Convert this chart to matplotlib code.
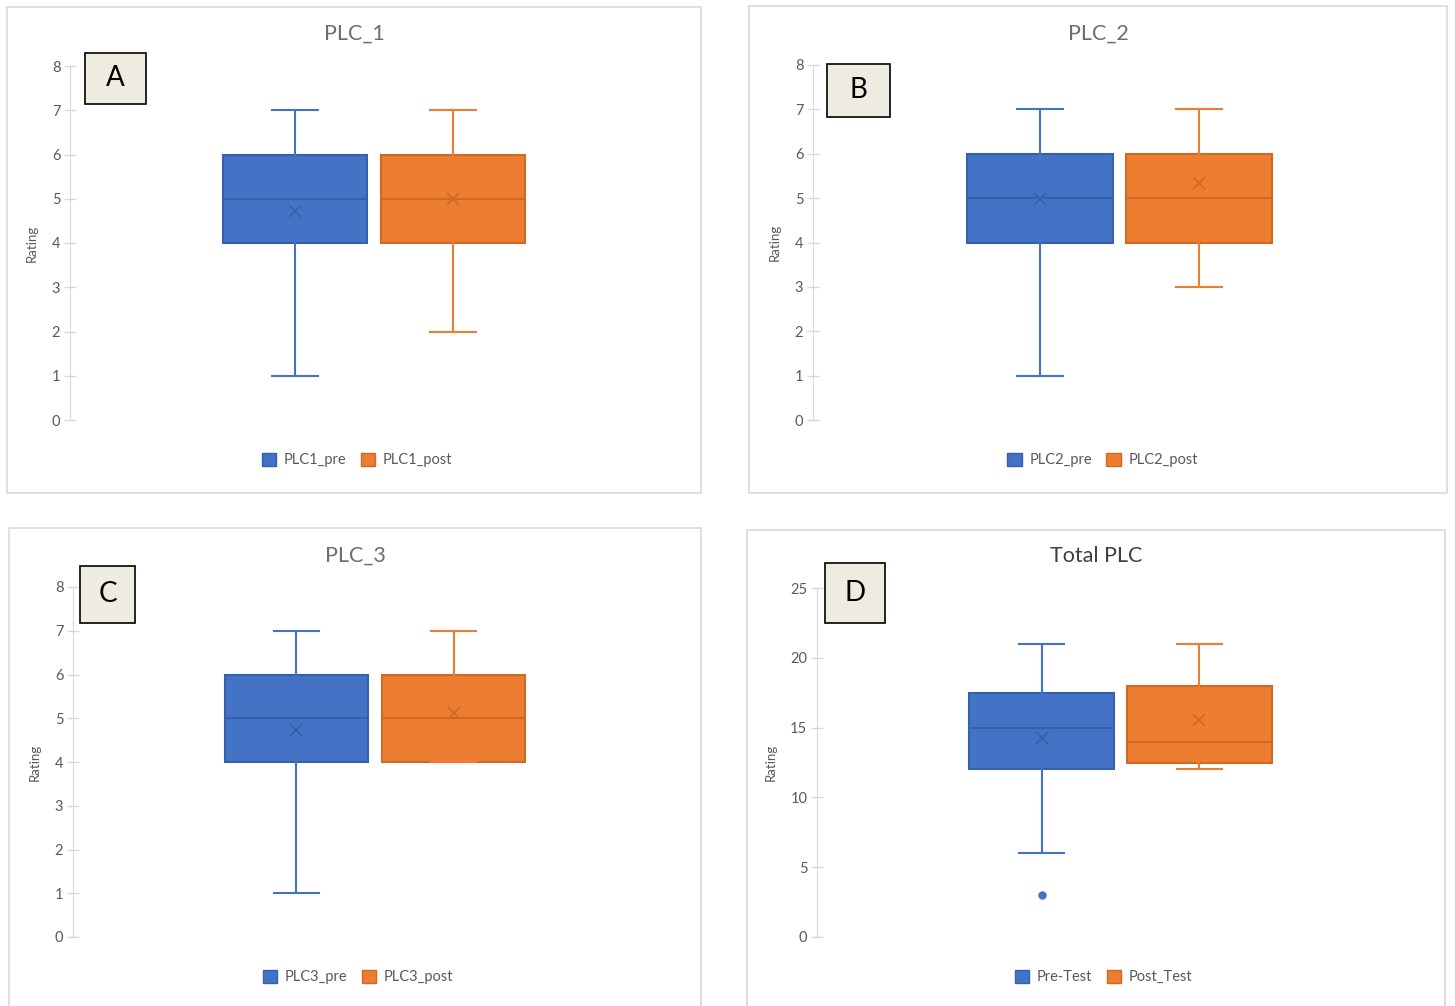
import matplotlib
matplotlib.use("Agg")
import matplotlib.pyplot as plt
from matplotlib.patches import Rectangle, Patch

plt.rcParams['font.family'] = ['Lato', 'DejaVu Sans']

W, H = 1455, 1006

# --- DATA (box statistics) ---
titles = ['PLC_1', 'PLC_2', 'PLC_3', 'Total PLC']
letters = ['A', 'B', 'C', 'D']
series_names = [['PLC1_pre', 'PLC1_post'], ['PLC2_pre', 'PLC2_post'],
                ['PLC3_pre', 'PLC3_post'], ['Pre-Test', 'Post_Test']]
# per panel: [pre, post]; each: (min whisker, q1, median, q3, max whisker)
box_five = [
    [(1, 4, 5, 6, 7), (2, 4, 5, 6, 7)],
    [(1, 4, 5, 6, 7), (3, 4, 5, 6, 7)],
    [(1, 4, 5, 6, 7), (4, 4, 5, 6, 7)],
    [(6, 12, 15, 17.5, 21), (12, 12.5, 14, 18, 21)],
]
box_means = [[4.72, 5.0], [4.97, 5.34], [4.73, 5.12], [14.26, 15.54]]
box_outliers = [[[], []], [[], []], [[], []], [[3], []]]
y_max = [8, 8, 8, 25]
y_step = [1, 1, 1, 5]

# --- layout in pixels ---
frames = [(7, 7, 701, 493), (749, 6, 1447, 493), (9, 528, 701, 1010), (747, 530, 1445, 1010)]
plot_areas = [(70, 66, 678, 420), (813, 65, 1426, 420), (73, 587, 677, 937), (817, 588, 1424, 937)]
letter_boxes = [(85, 53, 146, 104), (827, 64, 890, 117), (80, 566, 135, 623), (825, 563, 885, 623)]

BLUE, ORANGE = '#4472C4', '#ED7D31'
DARK = ['#3460AE', '#CF6A22']
GREY = '#595959'


def fx(x):
    return x / W


def fy(y):
    return 1 - y / H


fig = plt.figure(figsize=(W / 100, H / 100), dpi=100)

for i in range(4):
    # panel frame
    x0, y0, x1, y1 = frames[i]
    fig.patches.append(Rectangle((fx(x0), fy(y1)), fx(x1 - x0), (y1 - y0) / H,
                                 transform=fig.transFigure, fill=False,
                                 edgecolor='#D9D9D9', linewidth=1.2))

    l, t, r, b = plot_areas[i]
    ax = fig.add_axes([fx(l), fy(b), fx(r - l), (b - t) / H])
    stats = []
    for k in range(2):
        lo, q1, med, q3, hi = box_five[i][k]
        stats.append(dict(whislo=lo, q1=q1, med=med, q3=q3, whishi=hi,
                          mean=box_means[i][k], fliers=box_outliers[i][k]))
    for k, col in enumerate([BLUE, ORANGE]):
        ax.bxp([stats[k]], positions=[0.37 + 0.26 * k], widths=0.238,
               patch_artist=True, showmeans=True, showfliers=True,
               boxprops=dict(facecolor=col, edgecolor=DARK[k], linewidth=1.5),
               whiskerprops=dict(color=col, linewidth=1.5),
               capprops=dict(color=col, linewidth=1.5),
               medianprops=dict(color=DARK[k], linewidth=1.5),
               meanprops=dict(marker='x', markeredgecolor=DARK[k], markersize=9,
                              markeredgewidth=1.2),
               flierprops=dict(marker='o', markerfacecolor=col, markeredgecolor=col,
                               markersize=5),
               capwidths=0.075)

    ax.set_xlim(0, 1)
    ax.set_ylim(0, y_max[i])
    ax.set_yticks(range(0, y_max[i] + 1, y_step[i]))
    ax.set_xticks([])
    for s in ['top', 'right', 'bottom']:
        ax.spines[s].set_visible(False)
    ax.spines['left'].set_color('#D9D9D9')
    ax.tick_params(axis='y', direction='inout', length=8, width=1, color='#D9D9D9',
                   labelsize=10.5, labelcolor=GREY, pad=3)
    ax.set_ylabel('Rating', fontsize=9.5, color=GREY, labelpad=10)
    ax.patch.set_alpha(0)

    # title
    fx0, fx1 = frames[i][0], frames[i][2]
    ty = 34 if i < 2 else 556
    fig.text(fx((fx0 + fx1) / 2), fy(ty), titles[i], ha='center', va='center',
             fontsize=15.5, color='#6E6E6E' if i < 3 else '#404040')

    # legend
    handles = [Patch(facecolor=BLUE, edgecolor=DARK[0]), Patch(facecolor=ORANGE, edgecolor=DARK[1])]
    ly = 460 if i < 2 else 977
    fig.legend(handles, series_names[i], loc='center',
               bbox_to_anchor=(fx((l + r) / 2 - 17), fy(ly)), ncol=2, frameon=False,
               fontsize=10.5, labelcolor=GREY, handlelength=1.0, handleheight=1.0,
               handletextpad=0.5, columnspacing=1.0)

    # letter box
    bx0, by0, bx1, by1 = letter_boxes[i]
    fig.patches.append(Rectangle((fx(bx0), fy(by1)), fx(bx1 - bx0), (by1 - by0) / H,
                                 transform=fig.transFigure, facecolor='#EEECE1',
                                 edgecolor='black', linewidth=1.2, zorder=5))
    fig.text(fx((bx0 + bx1) / 2), fy((by0 + by1) / 2), letters[i], ha='center',
             va='center', fontsize=20, color='black', zorder=6)

fig.savefig('out.png', dpi=100)
